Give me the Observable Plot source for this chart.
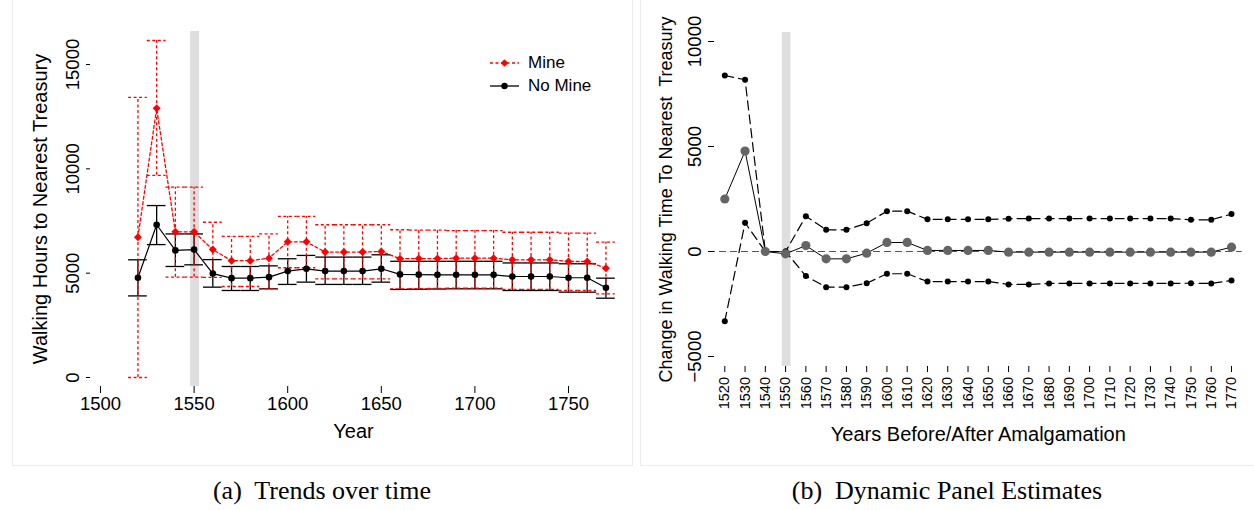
<!DOCTYPE html>
<html>
<head>
<meta charset="utf-8">
<script src="https://cdn.jsdelivr.net/npm/d3@7"></script>
<script src="https://cdn.jsdelivr.net/npm/@observablehq/plot@0.6"></script>
<style>
  body { margin: 0; background: #fff; }
  #wrap { position: relative; width: 1254px; height: 510px; overflow: hidden; background: #fff;
          font-family: "Liberation Sans", Arial, sans-serif; }
  #left { position: absolute; left: 0; top: 0; }
  #right { position: absolute; left: 640px; top: 0; }
  .box { position: absolute; border: 1px solid #ececec; box-sizing: border-box; }
  .cap { position: absolute; top: 476px; font-family: "Liberation Serif", "Times New Roman", serif;
         font-size: 26px; transform: translateX(-50%); white-space: pre; color: #000; }
  #legend { position: absolute; left: 489px; top: 51px; font-size: 17px; color: #000; }
  #legend .row { display: flex; align-items: center; height: 23px; }
  #legend svg { margin-right: 8px; }
</style>
</head>
<body>
<div id="wrap">
  <div class="box" style="left:12px; top:-2px; width:621px; height:468px;"></div>
  <div class="box" style="left:640px; top:-2px; width:620px; height:468px;"></div>
  <div id="left"></div>
  <div id="right"></div>
  <div id="legend"></div>
  <div class="cap" style="left:322px;">(a)  Trends over time</div>
  <div class="cap" style="left:947px;">(b)  Dynamic Panel Estimates</div>
</div>
<script>
// ---------- data ----------
const years = [1520, 1530, 1540, 1550, 1560, 1570, 1580, 1590, 1600, 1610, 1620, 1630, 1640,
               1650, 1660, 1670, 1680, 1690, 1700, 1710, 1720, 1730, 1740, 1750, 1760, 1770];
const amalgamationYear = 1550;

// Panel (a): walking hours to nearest treasury
const mineMean = [6720, 12900, 6980, 6980, 6130, 5600, 5600, 5720, 6500, 6500, 6010, 6010, 6010,
                  6040, 5690, 5700, 5700, 5720, 5720, 5720, 5640, 5640, 5640, 5560, 5560, 5240];
const mineHi   = [13420, 16150, 9120, 9120, 7440, 6760, 6760, 6880, 7720, 7720, 7320, 7320, 7320,
                  7320, 7080, 7060, 7060, 7040, 7040, 7040, 6960, 6960, 6960, 6920, 6920, 6490];
const mineLo   = [0, 9690, 4810, 4810, 4800, 4360, 4360, 4250, 5260, 5260, 4730, 4730, 4730,
                  4730, 4250, 4260, 4270, 4280, 4280, 4280, 4220, 4220, 4220, 4170, 4170, 4010];
const noMineMean = [4780, 7320, 6090, 6130, 4980, 4760, 4760, 4810, 5100, 5210, 5100, 5100, 5100,
                    5210, 4940, 4930, 4920, 4920, 4920, 4920, 4840, 4840, 4840, 4780, 4780, 4300];
const noMineHi   = [5640, 8240, 6880, 6880, 5650, 5320, 5320, 5350, 5690, 5850, 5770, 5770, 5770,
                    5880, 5570, 5570, 5570, 5570, 5570, 5570, 5490, 5490, 5490, 5450, 5450, 4760];
const noMineLo   = [3910, 6370, 5320, 5400, 4330, 4170, 4170, 4250, 4460, 4570, 4460, 4460, 4460,
                    4570, 4220, 4230, 4240, 4250, 4250, 4250, 4170, 4170, 4170, 4090, 4090, 3800];

// Panel (b): dynamic panel estimates
const estimate = [2500, 4780, 0, -110, 280, -350, -350, -80, 430, 430, 50, 50, 50,
                  50, -30, -30, -30, -30, -30, -30, -30, -30, -30, -30, -30, 205];
const estHi    = [8380, 8180, 0, 0, 1680, 1030, 1030, 1350, 1920, 1920, 1530, 1530, 1530,
                  1530, 1560, 1570, 1570, 1570, 1570, 1570, 1570, 1570, 1570, 1510, 1510, 1780];
const estLo    = [-3320, 1370, 0, 0, -1170, -1700, -1700, -1510, -1060, -1060, -1430, -1430, -1430,
                  -1430, -1570, -1570, -1520, -1520, -1520, -1520, -1520, -1520, -1520, -1510, -1520, -1380];

const leftYTicks = [0, 5000, 10000, 15000];
const leftXTicks = [1500, 1550, 1600, 1650, 1700, 1750];
const rightYTicks = [-5000, 0, 5000, 10000];

const seriesNames = ["Mine", "No Mine"];
const red = "#ff0000";
const capHalfYears = 5;

// ---------- tables ----------
const rowsA = years.map((year, i) => ({
  year, mine: mineMean[i], mineLo: mineLo[i], mineHi: mineHi[i],
  no: noMineMean[i], noLo: noMineLo[i], noHi: noMineHi[i]
}));
const rowsB = years.map((year, i) => ({year, est: estimate[i], hi: estHi[i], lo: estLo[i]}));

const font = "Liberation Sans, Arial, sans-serif";

// ---------- panel (a) ----------
const dashRed = "3,2.5";
const plotA = Plot.plot({
  width: 632, height: 465,
  marginTop: 31, marginBottom: 79, marginLeft: 90, marginRight: 16,
  style: {fontFamily: font, fontSize: "18.5px", color: "#000", background: "transparent", overflow: "visible"},
  x: {domain: [1500, 1750], range: [100, 568]},
  y: {domain: [0, 15000], range: [377, 64]},
  marks: [
    Plot.ruleX([amalgamationYear], {stroke: "#dedede", strokeWidth: 9, dx: 0.5}),
    Plot.axisX({ticks: leftXTicks, tickFormat: "d", tickSize: 7, tickPadding: 3.5, label: null, fontSize: 18.5}),
    Plot.axisY({ticks: leftYTicks, tickFormat: "d", tickSize: 4, tickRotate: -90, tickPadding: 7.5, label: null, fontSize: 18.5}),
    Plot.text(["Year"], {frameAnchor: "bottom", dy: 51, lineAnchor: "bottom", textAnchor: "middle", fontSize: 20}),
    Plot.text(["Walking Hours to Nearest Treasury"], {frameAnchor: "left", dx: -58, rotate: -90, lineAnchor: "top", textAnchor: "middle", fontSize: 20}),
    // No Mine confidence intervals
    Plot.ruleX(rowsA, {x: "year", y1: "noLo", y2: "noHi", stroke: "#000", strokeWidth: 1.3}),
    Plot.ruleY(rowsA, {y: "noLo", x1: d => d.year - capHalfYears, x2: d => d.year + capHalfYears, stroke: "#000", strokeWidth: 1.3}),
    Plot.ruleY(rowsA, {y: "noHi", x1: d => d.year - capHalfYears, x2: d => d.year + capHalfYears, stroke: "#000", strokeWidth: 1.3}),
    // Mine confidence intervals
    Plot.ruleX(rowsA, {x: "year", y1: "mineLo", y2: "mineHi", stroke: red, strokeWidth: 1.3, strokeDasharray: dashRed}),
    Plot.ruleY(rowsA, {y: "mineLo", x1: d => d.year - capHalfYears, x2: d => d.year + capHalfYears, stroke: red, strokeWidth: 1.3, strokeDasharray: dashRed}),
    Plot.ruleY(rowsA, {y: "mineHi", x1: d => d.year - capHalfYears, x2: d => d.year + capHalfYears, stroke: red, strokeWidth: 1.3, strokeDasharray: dashRed}),
    // lines
    Plot.line(rowsA, {x: "year", y: "no", stroke: "#000", strokeWidth: 1.2}),
    Plot.line(rowsA, {x: "year", y: "mine", stroke: red, strokeWidth: 1.3, strokeDasharray: dashRed}),
    Plot.dot(rowsA, {x: "year", y: "no", r: 3.3, fill: "#000", stroke: null}),
    Plot.dot(rowsA, {x: "year", y: "mine", r: 3.6, fill: red, stroke: null, symbol: "diamond2"})
  ]
});
document.getElementById("left").appendChild(plotA);

// ---------- panel (b) ----------
const plotB = Plot.plot({
  width: 614, height: 465,
  marginTop: 32, marginBottom: 99, marginLeft: 74, marginRight: 12.3,
  style: {fontFamily: font, fontSize: "18.5px", color: "#000", background: "transparent", overflow: "visible"},
  x: {domain: [1520, 1770], range: [84.3, 591]},
  y: {domain: [-5000, 10000], range: [356, 41]},
  marks: [
    Plot.ruleX([amalgamationYear], {stroke: "#dedede", strokeWidth: 8.7, dx: 0.5}),
    Plot.ruleY([0], {stroke: "#555", strokeWidth: 1, strokeDasharray: "7,4", insetLeft: -6}),
    Plot.axisX({ticks: years, tickFormat: "d", tickSize: 6, tickRotate: -90, tickPadding: 4.5,
                textAnchor: "end", lineAnchor: "middle", label: null, fontSize: 14.5}),
    Plot.axisY({ticks: rightYTicks, tickFormat: "d", tickSize: 6, tickRotate: -90, tickPadding: 8, label: null, fontSize: 18.5}),
    Plot.text(["Years Before/After Amalgamation"], {frameAnchor: "bottom", dy: 74, lineAnchor: "bottom", textAnchor: "middle", fontSize: 20}),
    Plot.text(["Change in Walking Time To Nearest\u00a0 Treasury"], {frameAnchor: "left", dx: -55.5, rotate: -90, lineAnchor: "top", textAnchor: "middle", fontSize: 18}),
    Plot.line(rowsB, {x: "year", y: "hi", stroke: "#000", strokeWidth: 1.2, strokeDasharray: "9,5"}),
    Plot.line(rowsB, {x: "year", y: "lo", stroke: "#000", strokeWidth: 1.2, strokeDasharray: "9,5"}),
    Plot.line(rowsB, {x: "year", y: "est", stroke: "#000", strokeWidth: 1}),
    Plot.dot(rowsB, {x: "year", y: "hi", r: 3, fill: "#000", stroke: null}),
    Plot.dot(rowsB, {x: "year", y: "lo", r: 3, fill: "#000", stroke: null}),
    Plot.dot(rowsB, {x: "year", y: "est", r: 4.6, fill: "#656565", stroke: null})
  ]
});
document.getElementById("right").appendChild(plotB);

// ---------- legend ----------
const legend = d3.select("#legend");
const styles = [
  {stroke: red, dash: dashRed, marker: "diamond"},
  {stroke: "#000", dash: null, marker: "circle"}
];
seriesNames.forEach((name, i) => {
  const st = styles[i];
  const row = legend.append("div").attr("class", "row");
  const svg = row.append("svg").attr("width", 31).attr("height", 12);
  svg.append("line").attr("x1", 1).attr("x2", 30).attr("y1", 6).attr("y2", 6)
    .attr("stroke", st.stroke).attr("stroke-width", 1.3).attr("stroke-dasharray", st.dash);
  if (st.marker === "diamond") {
    svg.append("path").attr("d", d3.symbol(d3.symbolDiamond2, Math.PI * 12)()).attr("transform", "translate(15.5,6)").attr("fill", st.stroke);
  } else {
    svg.append("circle").attr("cx", 15.5).attr("cy", 6).attr("r", 3.2).attr("fill", st.stroke);
  }
  row.append("span").text(name);
});
</script>
</body>
</html>
